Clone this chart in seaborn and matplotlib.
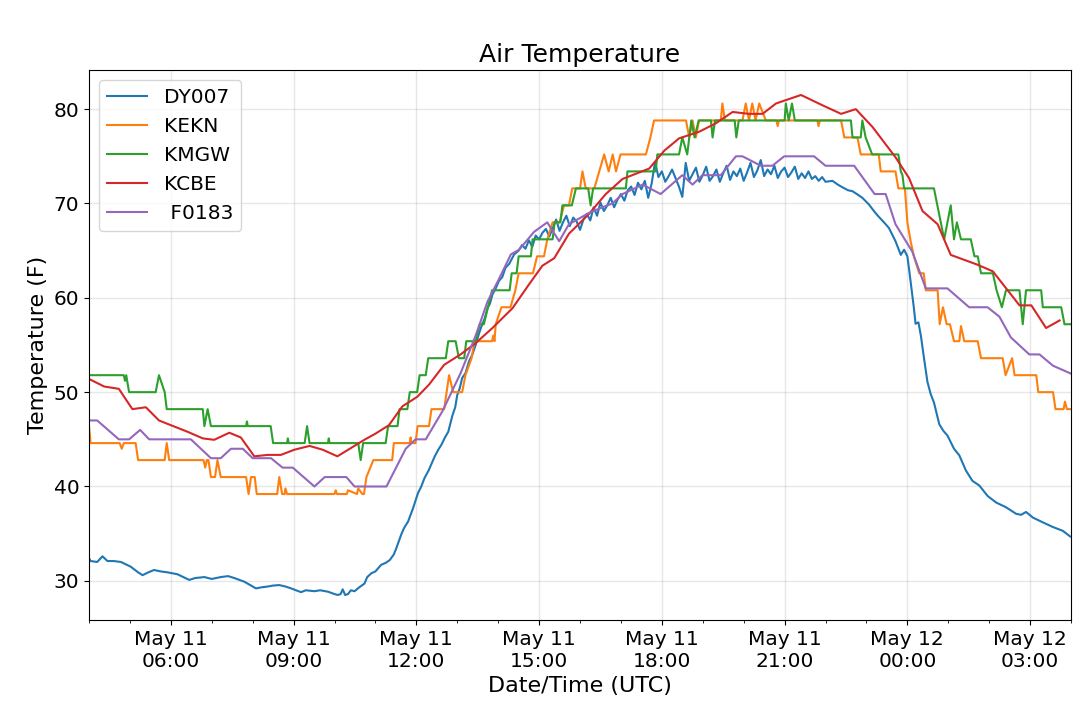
import numpy as np
import pandas as pd
import seaborn as sns
import matplotlib
matplotlib.use("Agg")
import matplotlib.pyplot as plt
import matplotlib.dates as mdates

# times are hours after 2019-05-11 00:00 UTC, temps in F
day0 = pd.Timestamp("2019-05-11 00:00")

# DY007: smooth night / evening parts + 5 minute noisy daytime block
dy_early_h = [4.0, 4.04, 4.2, 4.33, 4.45, 4.6, 4.78, 5.02, 5.2, 5.31, 5.45, 5.59, 5.75,
              5.92, 6.16, 6.45, 6.6, 6.82, 7.0, 7.22, 7.4, 7.55, 7.8, 8.08, 8.2, 8.37,
              8.5, 8.65, 8.8, 8.94, 9.18, 9.3, 9.51, 9.65, 9.84, 10.0, 10.08, 10.15,
              10.2, 10.26, 10.33, 10.4, 10.49, 10.6, 10.73, 10.8, 10.9, 11.0, 11.14,
              11.25, 11.35, 11.45, 11.51, 11.63, 11.7, 11.8, 11.92, 12.04, 12.12, 12.2,
              12.3, 12.45, 12.55, 12.61, 12.7, 12.78, 12.88, 12.95, 13.0, 13.06, 13.12,
              13.2, 13.29, 13.37, 13.45, 13.53, 13.61, 13.67, 13.74, 13.8, 13.86, 13.94,
              14.02, 14.1, 14.18, 14.27, 14.39]
dy_early_t = [32.4, 32.1, 32.0, 32.6, 32.1, 32.1, 32.0, 31.5, 30.9, 30.6, 30.9, 31.15, 31.0,
              30.9, 30.7, 30.1, 30.3, 30.4, 30.2, 30.4, 30.5, 30.3, 29.9, 29.2, 29.3, 29.4,
              29.5, 29.55, 29.4, 29.2, 28.8, 29.0, 28.9, 29.0, 28.85, 28.6, 28.5, 28.6,
              29.1, 28.5, 28.6, 29.0, 28.9, 29.3, 29.7, 30.4, 30.8, 31.0, 31.7,
              31.9, 32.2, 32.8, 33.45, 34.9, 35.6, 36.3, 37.7, 39.3, 40.0, 40.9,
              41.7, 43.2, 44.0, 44.4, 45.2, 45.8, 47.5, 48.4, 49.7, 50.4, 51.5,
              52.0, 53.3, 54.0, 55.0, 56.2, 57.2, 57.8, 58.9, 59.4, 60.35, 61.0,
              61.8, 62.2, 63.2, 63.6, 64.6]
dy_noisy_start = "2019-05-11 14:30"
dy_noisy_t = [65.0, 65.6, 65.2, 66.1, 65.4, 66.6,
              66.2, 66.9, 67.3, 66.5, 67.4, 68.3, 67.1, 68.0, 68.7, 67.6, 68.5, 68.1,
              67.2, 68.3, 68.9, 68.2, 69.6, 68.7, 70.1, 69.2, 69.8, 70.6, 69.6, 70.4,
              71.0, 70.3, 71.4, 71.8, 70.9, 72.2, 71.5, 72.4, 70.6, 72.1, 74.4, 72.8,
              73.4, 72.3, 72.9, 73.6, 72.7, 71.8, 70.7, 74.3, 72.4, 73.1, 73.8, 72.3,
              73.0, 73.9, 72.4, 72.9, 73.6, 72.3, 73.2, 74.0, 72.5, 73.4, 72.9, 73.7,
              72.4, 73.3, 74.3, 72.8, 73.5, 74.6, 72.9, 73.6, 73.1, 74.0, 72.7, 73.4,
              73.8, 72.8, 73.3, 73.9, 72.6, 73.2, 72.7, 73.4, 72.6, 72.9, 72.4, 72.8,
              72.3]
dy_late_h = [22.17, 22.3, 22.42, 22.55, 22.66, 22.8, 22.9, 23.06, 23.2, 23.3, 23.45, 23.55,
             23.71, 23.84, 23.92, 24.0, 24.04, 24.1, 24.16, 24.2, 24.27, 24.33, 24.41,
             24.49, 24.57, 24.65, 24.78, 24.88, 24.98, 25.14, 25.27, 25.43, 25.59, 25.76,
             25.96, 26.17, 26.41, 26.66, 26.78, 26.9, 27.07, 27.31, 27.56, 27.8, 27.98]
dy_late_t = [72.4, 72.0, 71.7, 71.4, 71.3, 70.9, 70.6, 69.9, 69.1, 68.6, 67.9, 67.4,
             66.0, 64.55, 65.1, 64.4, 63.1, 61.0, 58.9, 57.25, 57.4, 56.0, 53.5,
             51.1, 49.8, 48.9, 46.6, 45.9, 45.4, 44.0, 43.3, 41.7, 40.6, 40.1,
             39.0, 38.3, 37.8, 37.1, 37.0, 37.3, 36.7, 36.2, 35.7, 35.3, 34.7]

kekn_h = [4.0, 4.04, 4.75, 4.8, 4.85, 5.14, 5.2, 5.85, 5.9, 5.96, 6.8, 6.84, 6.88, 6.92,
          6.98, 7.08, 7.14, 7.22, 7.84, 7.9, 7.96, 8.05, 8.1, 8.6, 8.65, 8.72, 8.78, 8.8,
          8.84, 10.0, 10.03, 10.06, 10.3, 10.33, 10.55, 10.58, 10.68, 10.72, 10.78, 10.95,
          11.41, 11.45, 11.84, 11.86, 11.88, 11.98, 12.03, 12.31, 12.37, 12.68, 12.8,
          12.9, 13.12, 13.2, 13.35, 13.42, 13.85, 13.88, 13.91, 13.94, 14.08, 14.3, 14.42,
          14.5, 14.85, 14.95, 15.12, 15.2, 15.33, 15.5, 15.61, 15.73, 15.81, 16.0, 16.06,
          16.14, 16.35, 16.47, 16.59, 16.7, 16.8, 16.88, 16.99, 17.61, 17.72, 17.81,
          18.59, 18.67, 18.75, 18.83, 18.91, 19.44, 19.48, 19.54, 19.97, 20.05, 20.13,
          20.21, 20.29, 20.38, 20.54, 20.8, 20.83, 20.86, 21.8, 21.83, 21.86, 22.38,
          22.46, 22.78, 22.86, 23.3, 23.35, 23.71, 23.78, 23.94, 24.0, 24.08, 24.16,
          24.29, 24.4, 24.45, 24.74, 24.79, 24.87, 24.96, 25.04, 25.14, 25.27, 25.31,
          25.39, 25.72, 25.8, 26.33, 26.4, 26.56, 26.62, 27.15, 27.2, 27.56, 27.62,
          27.82, 27.85, 27.9, 28.0]
kekn_t = [46.4, 44.6, 44.6, 44.0, 44.6, 44.6, 42.8, 42.8, 44.6, 42.8, 42.8, 42.0, 42.8, 42.8,
          41.0, 41.0, 42.8, 41.0, 41.0, 39.2, 41.0, 41.0, 39.2, 39.2, 41.0, 39.2, 39.2, 39.8,
          39.2, 39.2, 39.6, 39.2, 39.2, 39.6, 39.2, 39.8, 39.2, 39.2, 41.0, 42.8,
          42.8, 44.6, 44.6, 45.2, 44.6, 44.6, 46.4, 46.4, 48.2, 48.2, 51.8,
          50.0, 50.0, 51.8, 53.6, 55.4, 55.4, 56.0, 55.4, 57.2, 59.0, 59.0, 60.8,
          62.6, 62.6, 64.4, 64.4, 66.2, 68.0, 68.0, 69.8, 69.8, 71.6, 71.6, 73.4,
          71.6, 71.6, 73.4, 75.2, 73.4, 75.2, 73.4, 75.2, 75.2, 77.0, 78.8,
          78.8, 77.0, 78.8, 77.0, 78.8, 78.8, 80.6, 78.8, 78.8, 80.6, 78.8,
          80.6, 78.8, 80.6, 78.8, 78.8, 78.2, 78.8, 78.8, 78.2, 78.8, 78.8,
          77.0, 77.0, 75.2, 75.2, 73.4, 73.4, 71.6, 71.6, 68.0, 66.0, 64.4,
          62.6, 62.6, 60.8, 60.8, 57.2, 59.0, 57.2, 57.2, 55.4, 55.4, 57.0,
          55.4, 55.4, 53.6, 53.6, 51.8, 53.6, 51.8, 51.8, 50.0, 50.0, 48.2,
          48.2, 49.0, 48.2, 48.2]

kmgw_h = [4.0, 4.85, 4.88, 4.91, 4.98, 5.63, 5.71, 5.85, 5.9, 6.78, 6.82, 6.9, 6.98, 7.84,
          7.86, 7.88, 8.44, 8.5, 8.84, 8.86, 8.88, 9.27, 9.33, 9.39, 9.84, 9.86, 9.88,
          10.58, 10.64, 10.7, 11.25, 11.31, 11.54, 11.59, 11.78, 11.84, 12.02, 12.08,
          12.23, 12.29, 12.72, 12.78, 12.96, 13.04, 13.17, 13.22, 13.45, 13.55, 13.65,
          13.75, 13.85, 14.28, 14.33, 14.45, 14.5, 14.8, 14.84, 15.33, 15.38, 15.52,
          15.57, 15.8, 15.9, 16.2, 16.26, 16.32, 17.12, 17.16, 17.85, 17.89, 18.42,
          18.5, 18.62, 18.72, 18.8, 18.9, 19.2, 19.24, 19.3, 19.78, 19.82, 19.88, 21.0,
          21.03, 21.1, 21.18, 21.25, 22.62, 22.66, 22.86, 22.9, 22.98, 23.14, 23.78,
          23.84, 23.88, 23.92, 24.65, 24.9, 25.06, 25.14, 25.21, 25.31, 25.55, 25.64,
          25.72, 25.8, 26.09, 26.18, 26.31, 26.41, 26.74, 26.82, 26.9, 27.27, 27.31,
          27.76, 27.84, 28.0]
kmgw_t = [51.8, 51.8, 51.2, 51.8, 50.0, 50.0, 51.8, 50.0, 48.2, 48.2, 46.4, 48.2, 46.4, 46.4,
          46.9, 46.4, 46.4, 44.6, 44.6, 45.1, 44.6, 44.6, 46.4, 44.6, 44.6, 45.1, 44.6,
          44.6, 42.8, 44.6, 44.6, 46.4, 46.4, 48.2, 48.2, 50.0, 50.0, 51.8,
          51.8, 53.6, 53.6, 55.4, 55.4, 53.6, 53.6, 55.4, 55.4, 57.2, 57.2,
          59.0, 60.8, 60.8, 62.6, 62.6, 64.4, 64.4, 66.2, 66.2, 68.0, 68.0,
          69.8, 69.8, 71.6, 71.6, 69.8, 71.6, 71.6, 73.4, 73.4, 75.2, 75.2,
          77.0, 75.2, 78.8, 77.0, 78.8, 78.8, 77.0, 78.8, 78.8, 77.0, 78.8, 78.8,
          80.6, 78.8, 80.6, 78.8, 78.8, 77.0, 77.0, 78.8, 77.0, 75.2, 75.2,
          73.4, 73.0, 71.6, 71.6, 66.2, 69.8, 66.2, 68.0, 66.2, 66.2, 64.4,
          64.4, 62.6, 62.6, 60.8, 59.0, 60.8, 60.8, 57.2, 60.8, 60.8, 59.0,
          59.0, 57.2, 57.2]

kcbe_h = [4.0, 4.37, 4.73, 5.06, 5.39, 5.71, 6.0, 6.41, 6.78, 7.06, 7.43, 7.71, 8.04, 8.37,
          8.69, 9.02, 9.39, 9.71, 10.07, 10.41, 10.73, 11.0, 11.33, 11.66, 12.02, 12.31,
          12.68, 13.08, 13.45, 13.86, 14.35, 14.75, 15.08, 15.37, 15.73, 16.22, 16.63,
          17.04, 17.69, 18.06, 18.42, 18.91, 19.32, 19.73, 20.13, 20.46, 20.79, 21.4,
          21.93, 22.38, 22.74, 23.15, 23.71, 24.04, 24.37, 24.74, 25.06, 25.72, 26.09,
          26.74, 27.03, 27.39, 27.72]
kcbe_t = [51.4, 50.6, 50.35, 48.2, 48.4, 47.0, 46.5, 45.8, 45.1, 44.95, 45.7, 45.2, 43.2, 43.35,
          43.35, 43.9, 44.3, 43.9, 43.2, 44.1, 44.95, 45.6, 46.5, 48.5, 49.5, 50.8,
          52.9, 54.0, 55.2, 56.8, 58.9, 61.4, 63.4, 64.2, 66.8, 68.9, 71.0,
          72.6, 73.7, 75.6, 76.9, 77.6, 78.5, 79.7, 79.5, 79.5, 80.6, 81.5,
          80.4, 79.5, 80.0, 78.1, 74.9, 72.7, 69.2, 67.8, 64.55, 63.5, 62.8,
          59.2, 59.2, 56.8, 57.6]

f0183_h = [4.0, 4.2, 4.73, 4.98, 5.25, 5.47, 6.49, 6.98, 7.22, 7.47, 7.76, 8.0, 8.45, 8.73,
           8.98, 9.51, 9.76, 10.29, 10.49, 11.27, 11.74, 11.98, 12.23, 12.64, 13.08, 13.45,
           13.74, 14.02, 14.31, 14.51, 14.88, 15.2, 15.49, 15.73, 16.22, 16.55, 16.79,
           17.04, 17.53, 17.97, 18.5, 18.75, 18.99, 19.44, 19.81, 19.97, 20.42, 20.7,
           20.99, 21.72, 22.0, 22.7, 23.2, 23.47, 23.71, 24.12, 24.45, 24.98, 25.51,
           25.96, 26.25, 26.53, 26.98, 27.23, 27.56, 27.98]
f0183_t = [47.0, 47.0, 45.0, 45.0, 46.0, 45.0, 45.0, 43.0, 43.0, 44.0, 44.0, 43.0, 43.0, 42.0,
           42.0, 40.0, 41.0, 41.0, 40.0, 40.0, 44.0, 45.0, 45.0, 48.0, 52.0, 56.0,
           59.6, 62.0, 64.6, 65.1, 67.0, 68.0, 66.0, 67.8, 69.0, 69.6, 70.0,
           71.0, 72.0, 71.0, 73.0, 72.0, 73.0, 73.0, 75.0, 75.0, 74.0, 74.0,
           75.0, 75.0, 74.0, 74.0, 71.0, 71.0, 67.8, 64.9, 61.0, 61.0, 59.0,
           59.0, 58.0, 55.8, 54.0, 54.0, 52.8, 52.0]

stations = ["DY007", "KEKN", "KMGW", "KCBE", " F0183"]


def to_times(hours):
    return day0 + pd.to_timedelta(np.array(hours), unit="h")


dy_times = np.concatenate([
    to_times(dy_early_h),
    pd.date_range(dy_noisy_start, periods=len(dy_noisy_t), freq="5min"),
    to_times(dy_late_h),
])
dy_temps = dy_early_t + dy_noisy_t + dy_late_t

frames = [
    pd.DataFrame({"time": dy_times, "temp": dy_temps, "station": stations[0]}),
    pd.DataFrame({"time": to_times(kekn_h), "temp": kekn_t, "station": stations[1]}),
    pd.DataFrame({"time": to_times(kmgw_h), "temp": kmgw_t, "station": stations[2]}),
    pd.DataFrame({"time": to_times(kcbe_h), "temp": kcbe_t, "station": stations[3]}),
    pd.DataFrame({"time": to_times(f0183_h), "temp": f0183_t, "station": stations[4]}),
]
df = pd.concat(frames, ignore_index=True)

fig, ax = plt.subplots(figsize=(10.8, 7.2), dpi=100)
fig.subplots_adjust(left=0.0824, right=0.9917, top=0.9028, bottom=0.1389)

sns.lineplot(data=df, x="time", y="temp", hue="station", hue_order=stations,
             palette="tab10", estimator=None, sort=False, linewidth=1.5, ax=ax)

ax.set_xlim(day0 + pd.Timedelta(hours=4), day0 + pd.Timedelta(hours=28))
ax.xaxis.set_major_locator(mdates.HourLocator(byhour=range(0, 24, 3)))
ax.xaxis.set_minor_locator(mdates.HourLocator())
ax.xaxis.set_major_formatter(mdates.DateFormatter("%b %d\n%H:%M"))
ax.tick_params(axis="both", which="major", labelsize=14.5)
ax.grid(True, which="major", color="#b0b0b0", alpha=0.3, linewidth=1)

ax.set_title("Air Temperature", fontsize=18)
ax.set_xlabel("Date/Time (UTC)", fontsize=16)
ax.set_ylabel("Temperature (F)", fontsize=16)

handles, labels = ax.get_legend_handles_labels()
ax.legend(handles, labels, loc="upper left", fontsize=14.5)

fig.savefig("out.png", dpi=100)
